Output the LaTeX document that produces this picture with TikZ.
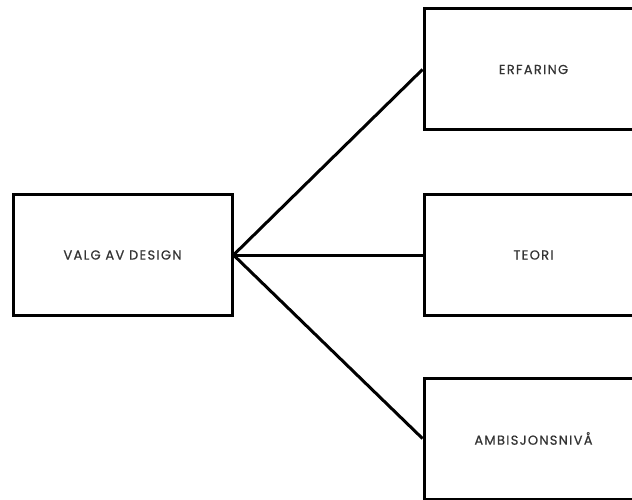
\documentclass[tikz,border=0pt]{standalone}
\usepackage{fontspec}
\setmainfont{Poppins}[LetterSpace=10,FakeBold=0.6]
\definecolor{txt}{HTML}{333333}
\begin{document}
\begin{tikzpicture}[x=1pt,y=1pt,
  box/.style={draw=black,line width=3pt,fill=white,minimum width=219pt,minimum height=121pt,inner sep=0pt,text=txt,font=\fontsize{13}{15}\selectfont},
  link/.style={line width=3pt,black}]
\useasboundingbox (0,0) rectangle (632,499);
\clip (0,0) rectangle (632,499);
\fill[white] (0,0) rectangle (632,499);
\node[box] (valg) at (122.5,244) {VALG AV DESIGN};
\node[box] (erf) at (533.5,429.5) {ERFARING};
\node[box] (teori) at (533.5,244) {TEORI};
\node[box] (amb) at (533.5,60.5) {AMBISJONSNIVÅ};
\draw[link] (valg.east) -- (erf.west);
\draw[link] (valg.east) -- (teori.west);
\draw[link] (valg.east) -- (amb.west);
\end{tikzpicture}
\end{document}
